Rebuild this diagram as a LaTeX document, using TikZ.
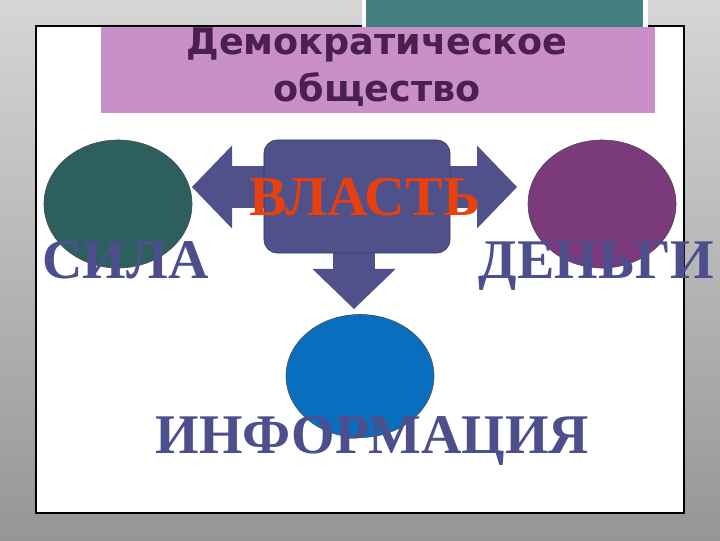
\documentclass[tikz,border=0pt]{standalone}
\usepackage{fontspec}
\setmainfont{Liberation Serif}
\newfontfamily\titlefont{DejaVu Sans}
\usetikzlibrary{shapes.geometric,arrows.meta}

\definecolor{tealTab}{RGB}{70,127,128}
\definecolor{titleBox}{RGB}{201,143,201}
\definecolor{titleText}{RGB}{75,31,78}
\definecolor{silaFill}{RGB}{45,95,95}
\definecolor{dengiFill}{RGB}{123,58,124}
\definecolor{infoFill}{RGB}{10,110,190}
\definecolor{arrowFill}{RGB}{80,81,139}
\definecolor{wordText}{RGB}{77,79,140}
\definecolor{vlastText}{RGB}{232,64,12}

\pgfdeclarelayer{back}
\pgfsetlayers{back,main}

\begin{document}
\begin{tikzpicture}[
    x=0.025cm, y=-0.025cm,
    every node/.style={align=center},
    blob/.style={ellipse, draw=black!70, line width=0.4pt, inner sep=0pt, minimum width=3.7cm, minimum height=3.2cm},
    powerBox/.style={rectangle, rounded corners=0.33cm, fill=arrowFill, draw=arrowFill!70!black, line width=0.4pt, minimum width=4.65cm, minimum height=2.825cm},
    word/.style={font=\bfseries\fontsize{39.8}{40}\selectfont, text=wordText, inner sep=0pt},
    blockArrow/.style={draw=arrowFill, line width=1.05cm, -{Triangle[length=1cm, width=2.075cm, line width=0pt]}}
]

% Background and panel
\begin{pgfonlayer}{back}
\shade[top color={rgb,255:red,214;green,214;blue,214}, bottom color={rgb,255:red,150;green,150;blue,150}] (0,0) rectangle (720,540);
\draw[fill=white, line width=0.8pt] (36,26) rectangle (684,513);
\fill[white] (362,0) rectangle (648,27);
\fill[tealTab] (366,0) rectangle (643,27);
\fill[titleBox] (101,27) rectangle (655,113);
\end{pgfonlayer}

% Nodes
\node[text=titleText, font=\titlefont\bfseries\fontsize{26}{33}\selectfont] (title) at (377,67) {Демократическое\\общество};
\node[powerBox] (vlast) at (357,196.5) {};
\node[blob, fill=silaFill] (sila) at (118,204) {};
\node[blob, fill=dengiFill] (dengi) at (602,204) {};
\node[blob, fill=infoFill, minimum height=3.075cm] (info) at (360,376) {};
\coordinate (leftTip) at (192,187);
\coordinate (rightTip) at (517,187);
\coordinate (downTip) at (354,309);

% Arrows
\begin{pgfonlayer}{back}
\draw[blockArrow] (vlast.center |- leftTip) -- (leftTip);
\draw[blockArrow] (vlast.center |- rightTip) -- (rightTip);
\draw[blockArrow] (vlast.center -| downTip) -- (downTip);
\end{pgfonlayer}

% Labels
\node[word, anchor=base] (silaText) at (125.5,278) {СИЛА};
\node[word, anchor=base] (dengiText) at (596.5,278) {ДЕНЬГИ};
\node[word, anchor=base, text=vlastText, font=\bfseries\fontsize{40}{41}\selectfont] (vlastText) at (365,215) {ВЛАСТЬ};
\node[word, anchor=base] (infoText) at (372.5,453) {ИНФОРМАЦИЯ};

\end{tikzpicture}
\end{document}
